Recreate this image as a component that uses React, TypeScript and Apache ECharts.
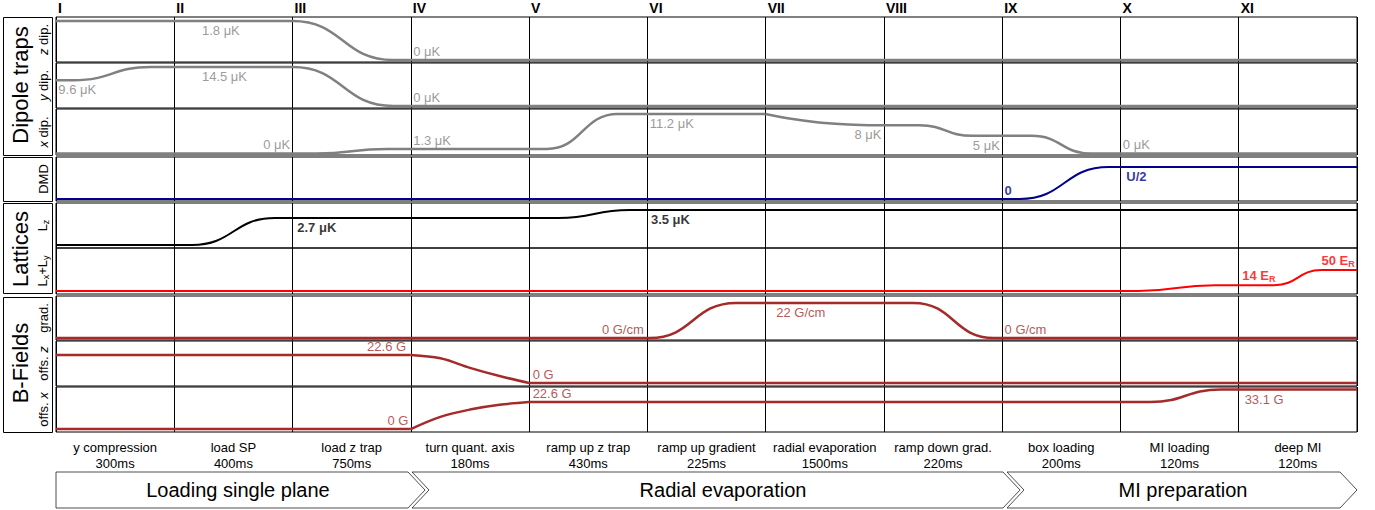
import React, { useEffect, useRef } from 'react';
import * as echarts from 'echarts';

const FONT = "'Liberation Sans', Arial, Helvetica, sans-serif";
const GRAY = '#808080';
const NAVY = '#00008b';
const RED = '#ff0000';
const BROWN = '#a52a2a';
const BLACK = '#000000';

// step numerals, step names, durations, phases
const romanLabels = ['I', 'II', 'III', 'IV', 'V', 'VI', 'VII', 'VIII', 'IX', 'X', 'XI'];
const stepNames = ['y compression', 'load SP', 'load z trap', 'turn quant. axis', 'ramp up z trap', 'ramp up gradient', 'radial evaporation', 'ramp down grad.', 'box loading', 'MI loading', 'deep MI'];
const stepDurations = ['300ms', '400ms', '750ms', '180ms', '430ms', '225ms', '1500ms', '220ms', '200ms', '120ms', '120ms'];
const phaseNames = ['Loading single plane', 'Radial evaporation', 'MI preparation'];
const groupNames = ['Dipole traps', 'Lattices', 'B-Fields'];
const channelNames = ['{i|z} dip.', '{i|y} dip.', '{i|x} dip.', 'DMD', 'L{s|z}', 'L{s|x}+L{s|y}', 'grad.', 'offs. {i|z}', 'offs. {i|x}'];

// channel keypoints: [step position, value]
const zDip = [[0, 1.8], [2, 1.8], [2.85, 0], [11, 0]];
const yDip = [[0, 9.6], [0.15, 9.6], [0.8, 14.5], [2, 14.5], [2.85, 0], [11, 0]];
const xDipA = [[0, 0], [2.2, 0], [2.8, 1.3], [4.15, 1.3], [4.75, 11.2], [6, 11.2]];
const xDipDecay = [[6, 11.2], [6.2, 9.9], [6.45, 8.8], [6.7, 8.25], [6.95, 8.02]];
const xDipB = [[6.95, 8], [7.3, 8], [7.75, 5], [8.25, 5], [8.75, 0], [11, 0]];
const dmd = [[0, 0], [8.15, 0], [8.9, 0.5], [11, 0.5]];
const lz = [[0, 0], [1.15, 0], [1.85, 2.7], [4.25, 2.7], [4.85, 3.5], [11, 3.5]];
const lxy = [[0, 0], [9.15, 0], [9.8, 14], [10.3, 14], [10.7, 50], [11, 50]];
const grad = [[0, 0], [5.02, 0], [5.75, 22], [7.25, 22], [7.93, 0], [11, 0]];
const offsZA = [[0, 22.6], [3, 22.6]];
const offsZRamp = [[3, 22.6], [3.25, 19.9], [3.5, 12.2], [3.75, 5.6], [4, 0]];
const offsZB = [[4, 0], [11, 0]];
const offsXA = [[0, 0], [3, 0]];
const offsXRamp = [[3, 0], [3.25, 10.2], [3.5, 16.3], [3.75, 20.3], [4, 22.6]];
const offsXB = [[4, 22.6], [9.25, 22.6], [9.85, 33.1], [11, 33.1]];

// value labels: [step position, value, text, anchor, side]
const zDipLabels = [[1.234, 1.8, '1.8 μK', 'left', 'below'], [3.02, 0, '0 μK', 'left', 'above']];
const yDipLabels = [[0.02, 9.6, '9.6 μK', 'left', 'below'], [1.234, 14.5, '14.5 μK', 'left', 'below'], [3.02, 0, '0 μK', 'left', 'above']];
const xDipLabels = [[1.98, 0, '0 μK', 'right', 'above'], [3.02, 1.3, '1.3 μK', 'left', 'above'], [5.02, 11.2, '11.2 μK', 'left', 'below'], [6.98, 8, '8 μK', 'right', 'below'], [7.98, 5, '5 μK', 'right', 'below'], [9.02, 0, '0 μK', 'left', 'above']];
const dmdLabels = [[8.02, 0, '0', 'left', 'above'], [9.05, 0.5, 'U/2', 'left', 'below']];
const lzLabels = [[2.04, 2.7, '2.7 μK', 'left', 'below'], [5.03, 3.5, '3.5 μK', 'left', 'below']];
const lxyLabels = [[10.03, 14, '14 E{s|R}', 'left', 'above'], [10.98, 50, '50 E{s|R}', 'right', 'above']];
const gradLabels = [[4.97, 0, '0 G/cm', 'right', 'above'], [6.09, 22, '22 G/cm', 'left', 'below'], [8.02, 0, '0 G/cm', 'left', 'above']];
const offsZLabels = [[2.96, 22.6, '22.6 G', 'right', 'above'], [4.03, 0, '0 G', 'left', 'above']];
const offsXLabels = [[2.98, 0, '0 G', 'right', 'above'], [4.03, 22.6, '22.6 G', 'left', 'above'], [10.05, 33.1, '33.1 G', 'left', 'below']];

// layout
const panelTop = [17, 63, 109, 157, 203, 248, 296, 341, 387];
const panelH = [45, 45, 46, 44, 45, 46, 44, 45, 45];
const yRange = [[-0.09, 1.98], [-0.74, 15.99], [-0.43, 12.62], [-0.031, 0.656], [-0.3, 4.2], [-7.1, 102.4], [-1.26, 26.4], [-2.42, 33.9], [-2.5, 35.2]];

type Part = { data: number[][]; mode: 'sig' | 'curve' };
const channels: { grid: number; color: string; width: number; bold: boolean; parts: Part[]; labels: any[] }[] = [
  { grid: 0, color: GRAY, width: 2.5, bold: false, parts: [{ data: zDip, mode: 'sig' }], labels: zDipLabels },
  { grid: 1, color: GRAY, width: 2.5, bold: false, parts: [{ data: yDip, mode: 'sig' }], labels: yDipLabels },
  { grid: 2, color: GRAY, width: 2.5, bold: false, parts: [{ data: xDipA, mode: 'sig' }, { data: xDipDecay, mode: 'curve' }, { data: xDipB, mode: 'sig' }], labels: xDipLabels },
  { grid: 3, color: NAVY, width: 2, bold: true, parts: [{ data: dmd, mode: 'sig' }], labels: dmdLabels },
  { grid: 4, color: BLACK, width: 2, bold: true, parts: [{ data: lz, mode: 'sig' }], labels: lzLabels },
  { grid: 5, color: RED, width: 2, bold: true, parts: [{ data: lxy, mode: 'sig' }], labels: lxyLabels },
  { grid: 6, color: BROWN, width: 2.5, bold: false, parts: [{ data: grad, mode: 'sig' }], labels: gradLabels },
  { grid: 7, color: BROWN, width: 2.5, bold: false, parts: [{ data: offsZA, mode: 'sig' }, { data: offsZRamp, mode: 'curve' }, { data: offsZB, mode: 'sig' }], labels: offsZLabels },
  { grid: 8, color: BROWN, width: 2.5, bold: false, parts: [{ data: offsXA, mode: 'sig' }, { data: offsXRamp, mode: 'curve' }, { data: offsXB, mode: 'sig' }], labels: offsXLabels },
];

function buildOption(): any {
  const grids = panelTop.map((t, i) => ({
    left: 56, right: 18, top: t, height: panelH[i], show: true,
    borderColor: '#000', borderWidth: 1, backgroundColor: 'transparent',
  }));
  const xAxes: any[] = panelTop.map((_, i) => ({
    type: 'value', gridIndex: i, min: 0, max: 11, interval: 1,
    position: i === 0 ? 'top' : 'bottom',
    axisLine: { show: false }, axisTick: { show: false },
    axisLabel: i === 0 ? {
      show: true, formatter: (v: number) => romanLabels[Math.round(v)] ?? '',
      align: 'left', margin: 2, fontSize: 14, fontWeight: 'bold', color: '#000',
      padding: [0, 0, 0, 2], fontFamily: FONT, showMinLabel: true, showMaxLabel: true,
    } : { show: false },
    splitLine: { show: true, lineStyle: { color: '#000', width: 1 } },
  }));
  xAxes.push({
    type: 'category', gridIndex: 8, position: 'bottom', data: stepNames, boundaryGap: true,
    axisLine: { show: false }, axisTick: { show: false }, splitLine: { show: false },
    axisLabel: {
      interval: 0, margin: 7, fontSize: 13, lineHeight: 16, color: '#000', fontFamily: FONT,
      formatter: (v: string, idx: number) => v + '\n' + stepDurations[idx],
    },
  });
  const yAxes = panelTop.map((_, i) => ({
    type: 'value', gridIndex: i, min: yRange[i][0], max: yRange[i][1],
    axisLine: { show: false }, axisTick: { show: false }, axisLabel: { show: false },
    splitLine: { show: false },
    name: channelNames[i], nameLocation: 'middle', nameRotate: 90, nameGap: 6,
    nameTextStyle: {
      fontSize: 13, color: '#000', fontFamily: FONT,
      rich: {
        i: { fontSize: 13, fontStyle: 'italic', fontFamily: FONT, color: '#000' },
        s: { fontSize: 9, fontFamily: FONT, color: '#000', padding: [7, 0, 0, 0] },
      },
    },
  }));

  const series: any[] = [];
  channels.forEach((ch) => {
    ch.parts.forEach((p) => {
      series.push({
        type: 'line', xAxisIndex: ch.grid, yAxisIndex: ch.grid, data: p.data,
        symbol: 'none', showSymbol: false, silent: true,
        smooth: p.mode === 'sig' ? 0.5 : 0.35,
        smoothMonotone: p.mode === 'sig' ? 'x' : undefined,
        lineStyle: { color: ch.color, width: ch.width },
        z: 3,
      });
    });
    series.push({
      type: 'scatter', xAxisIndex: ch.grid, yAxisIndex: ch.grid, symbolSize: 0, silent: true,
      itemStyle: { color: 'transparent' }, z: 4,
      data: ch.labels.map((l: any[]) => ({
        value: [l[0], l[1]],
        label: {
          show: true, formatter: l[2], position: l[4] === 'above' ? 'top' : 'bottom',
          distance: l[4] === 'above' ? 2 : 3, align: l[3],
          color: ch.color, fontSize: 13, fontWeight: ch.bold ? 'bold' : 'normal', fontFamily: FONT,
          rich: {
            s: { fontSize: 9, color: ch.color, fontWeight: 'bold', fontFamily: FONT, padding: [7, 0, 0, 0] },
          },
        },
      })),
    });
  });

  const boxes = [
    [3, 17, 49, 138], [3, 157, 49, 44], [3, 203, 49, 90], [3, 297, 49, 135],
  ];
  const groupCenters = [[20, 85], [20, 249], [20, 363]];
  const arrows = [
    [[56, 472], [408, 472], [425, 490], [408, 508], [56, 508]],
    [[412, 472], [1003, 472], [1020, 490], [1003, 508], [412, 508], [429, 490]],
    [[1007, 472], [1340, 472], [1357, 490], [1340, 508], [1007, 508], [1024, 490]],
  ];
  const arrowText = [238, 723, 1183];
  const graphic: any[] = [];
  boxes.forEach((b) => graphic.push({
    type: 'rect', shape: { x: b[0] + 0.5, y: b[1] + 0.5, width: b[2], height: b[3] },
    style: { fill: 'none', stroke: '#000', lineWidth: 1 }, silent: true,
  }));
  groupNames.forEach((g, i) => graphic.push({
    type: 'text', x: groupCenters[i][0], y: groupCenters[i][1], rotation: Math.PI / 2,
    style: { text: g, fontSize: 22, fontFamily: FONT, fill: '#000', align: 'center', verticalAlign: 'middle' },
    silent: true,
  }));
  arrows.forEach((a, i) => {
    graphic.push({
      type: 'polygon', shape: { points: a },
      style: { fill: '#fff', stroke: '#222', lineWidth: 0.8 }, silent: true,
    });
    graphic.push({
      type: 'text', x: arrowText[i], y: 490,
      style: { text: phaseNames[i], fontSize: 20, fontFamily: FONT, fill: '#000', align: 'center', verticalAlign: 'middle' },
      silent: true,
    });
  });

  return {
    animation: false,
    backgroundColor: '#fff',
    textStyle: { fontFamily: FONT },
    grid: grids,
    xAxis: xAxes,
    yAxis: yAxes,
    series,
    graphic,
  };
}

export default function App() {
  const ref = useRef<HTMLDivElement>(null);
  useEffect(() => {
    document.body.style.margin = '0';
    const chart = echarts.init(ref.current as HTMLDivElement, null, { renderer: 'svg' });
    chart.setOption(buildOption());
    return () => chart.dispose();
  }, []);
  return <div ref={ref} style={{ width: 1375, height: 510 }} />;
}
